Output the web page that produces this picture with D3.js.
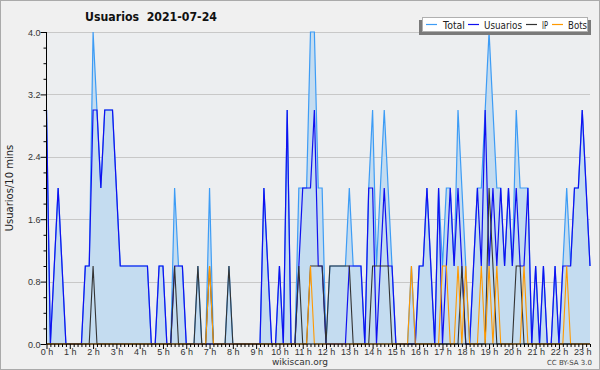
<!DOCTYPE html>
<html><head><meta charset="utf-8">
<script src="https://cdn.jsdelivr.net/npm/d3@7"></script>
<style>body{margin:0;background:#f0f0f0;}svg{display:block;font-family:"DejaVu Sans",sans-serif;}</style>
</head><body><svg id="c" width="600" height="370"></svg>
<script>
const title = "Usuarios  2021-07-24";
const yLabel = "Usuarios/10 mins";
const hourLabels = ["0 h","1 h","2 h","3 h","4 h","5 h","6 h","7 h","8 h","9 h","10 h","11 h","12 h","13 h","14 h","15 h","16 h","17 h","18 h","19 h","20 h","21 h","22 h","23 h"];
const yTicks = [0.0, 0.8, 1.6, 2.4, 3.2, 4.0];
const seriesNames = ["Total","Usuarios","IP","Bots"];
// 10-minute slots, 00:00 .. 23:20
const usuarios = [3,0,1,2,1,0,0,0,0,0, 1,1,3,3,2,3,3,3,2,1, 1,1,1,1,1,1,1,0,0,1, 1,0,0,1,1,1,0,0,0,0,
 0,0,0,0,0,0,0,0,0,0, 0,0,0,0,0,0,2,1,0,0, 1,0,3,0,0,1,2,2,2,3, 1,1,0,0,0,0,0,0,1,1,
 1,1,0,2,2,0,1,2,1,1, 0,0,0,0,0,0,1,1,2,1, 0,2,0,1,2,1,2,1,0,0, 1,2,1,3,1,2,1,2,1,2,
 1,2,1,1,2,0,1,0,1,0, 0,1,0,1,1,1,2,2,3,2, 1];
const ip = [0,0,0,0,0,0,0,0,0,0, 0,0,1,0,0,0,0,0,0,0, 0,0,0,0,0,0,0,0,0,0, 0,0,0,1,0,0,0,0,0,1,
 0,0,1,0,0,0,0,1,0,0, 0,0,0,0,0,0,0,0,0,0, 0,0,0,0,0,1,0,0,1,1, 1,1,0,1,1,1,1,1,1,0,
 0,0,0,0,1,1,1,1,1,0, 0,0,0,0,0,0,0,0,0,0, 0,0,0,0,0,0,0,1,0,0, 0,0,0,0,2,1,0,0,0,0,
 0,1,1,0,0,0,0,0,0,0, 0,0,0,0,0,0,0,0,0,0, 0];
const bots = [0,0,0,0,0,0,0,0,0,0, 0,0,0,0,0,0,0,0,0,0, 0,0,0,0,0,0,0,0,0,0, 0,0,0,0,0,0,0,0,0,0,
 0,0,1,0,0,0,0,0,0,0, 0,0,0,0,0,0,0,0,0,0, 0,0,0,0,0,0,0,0,1,0, 0,0,0,0,0,0,0,0,0,0,
 0,0,0,0,0,0,0,0,0,0, 0,0,0,0,1,0,0,0,0,0, 0,0,1,1,0,0,1,0,1,0, 0,0,1,0,1,0,1,0,0,0,
 0,0,0,1,0,0,0,0,0,0, 0,0,0,0,1,0,0,0,0,0, 0];
const total = usuarios.map((u,i)=>u+ip[i]+bots[i]);
const colors = {Total:"#3d9cf5", Usuarios:"#1010f0", IP:"#333333", Bots:"#ff9900"};

const svg = d3.select("#c");
const W=600,H=370;
svg.append("rect").attr("x",0.5).attr("y",0.5).attr("width",W-1).attr("height",H-1).attr("fill","#f0f0f0").attr("stroke","#aaaaaa");
const L=46.5, R=590, T=32, B=344;
const n = usuarios.length;
const x = d3.scaleLinear().domain([0,n-1]).range([L,R]);
const y = d3.scaleLinear().domain([0,4]).range([B,T]);
svg.append("rect").attr("x",L).attr("y",T).attr("width",R-L).attr("height",B-T).attr("fill","#eceef0");
// grid
svg.append("g").selectAll("line").data(yTicks.slice(1)).join("line")
 .attr("x1",L).attr("x2",R).attr("y1",d=>Math.round(y(d))+0.5).attr("y2",d=>Math.round(y(d))+0.5)
 .attr("stroke","#c8c8c8").attr("stroke-width",1);
const idx = d3.range(n);
const area = d3.area().x(i=>x(i)).y0(B).y1(i=>y(total[i]));
svg.append("path").datum(idx).attr("d",area).attr("fill","#c4dcf0");
const line = arr => d3.line().x(i=>x(i)).y(i=>y(arr[i]));
svg.append("path").datum(idx).attr("d",line(total)).attr("fill","none").attr("stroke",colors.Total).attr("stroke-width",1.2);
svg.append("path").datum(idx).attr("d",line(usuarios)).attr("fill","none").attr("stroke",colors.Usuarios).attr("stroke-width",1.2);
svg.append("path").datum(idx).attr("d",line(ip)).attr("fill","none").attr("stroke",colors.IP).attr("stroke-width",1.1);
svg.append("path").datum(idx).attr("d",line(bots)).attr("fill","none").attr("stroke",colors.Bots).attr("stroke-width",1.1);
// axes
const yAxis = d3.axisLeft(y).tickValues(d3.range(0,4.01,0.2)).tickSize(3).tickFormat(d=>{const k=Math.round(d*10);return k%8===0?(d.toFixed(1)):"";});
const gy = svg.append("g").attr("transform",`translate(${L},0)`).call(yAxis);
gy.selectAll("line").attr("stroke","#000");
gy.selectAll(".tick").filter(d=>Math.round(d*10)%8===0).select("line").attr("x2",-6);
gy.select(".domain").attr("stroke","#000").attr("d",`M0,${T}V${B}`);
gy.selectAll("text").attr("font-size",9).attr("fill","#333").attr("x",-6).attr("dy","0.35em");
const xAxis = d3.axisBottom(x).tickValues(idx).tickSize(3).tickFormat(i=> i%6===0 ? hourLabels[i/6] : "");
const gx = svg.append("g").attr("transform",`translate(0,${B})`).call(xAxis);
gx.select(".domain").attr("stroke","#000").attr("d",`M${L},0H${R}`);
gx.selectAll("line").attr("stroke","#000");
gx.selectAll(".tick").filter(i=>i%6===0).select("line").attr("y2",5);
gx.selectAll("text").attr("font-size",9).attr("fill","#333").attr("y",5);
// title & labels
svg.append("text").attr("x",85).attr("y",21).attr("font-size",13).attr("font-weight","bold").attr("fill","#111")
  .attr("textLength",132).attr("lengthAdjust","spacingAndGlyphs").style("white-space","pre").text(title);
svg.append("text").attr("transform","translate(13,188) rotate(-90)").attr("text-anchor","middle").attr("font-size",10).attr("fill","#222").text(yLabel);
svg.append("text").attr("x",300).attr("y",365).attr("text-anchor","middle").attr("font-size",9).attr("fill","#333").text("wikiscan.org");
svg.append("text").attr("x",592).attr("y",365).attr("text-anchor","end").attr("font-size",7).attr("fill","#444").text("CC BY-SA 3.0");
// legend
const lg = svg.append("g");
lg.append("rect").attr("x",419).attr("y",20).attr("width",172).attr("height",15).attr("fill","#7a7a7a");
lg.append("rect").attr("x",422.5).attr("y",17.5).attr("width",165).attr("height",14).attr("fill","#ffffff").attr("stroke","#b0b0b0");
const legendPos = [[426,443,22],[468,484,38],[526,542,6],[552,568,19]];
seriesNames.forEach((nm,k)=>{
  const [lx,tx,tw] = legendPos[k];
  lg.append("line").attr("x1",lx).attr("x2",lx+11).attr("y1",24.5).attr("y2",24.5).attr("stroke",colors[nm]).attr("stroke-width",1.2);
  lg.append("text").attr("x",tx).attr("y",28.5).attr("font-size",11).attr("fill","#222")
    .attr("textLength",tw).attr("lengthAdjust","spacingAndGlyphs").text(nm);
});
</script></body></html>
